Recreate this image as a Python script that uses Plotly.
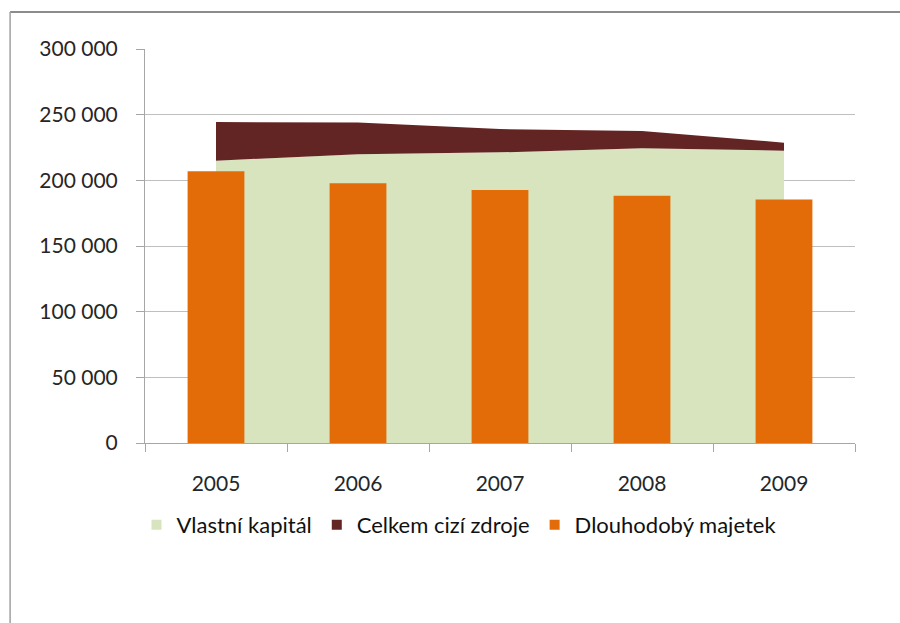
import plotly.graph_objects as go

years = ["2005", "2006", "2007", "2008", "2009"]
vlastni_kapital = [215000, 219800, 221300, 224400, 222600]
cizi_zdroje = [29400, 24200, 17700, 13200, 6100]
dlouhodoby_majetek = [206900, 197700, 192600, 188300, 185500]
y_ticks = [0, 50000, 100000, 150000, 200000, 250000, 300000]
y_tick_labels = ["0", "50 000", "100 000", "150 000", "200 000", "250 000", "300 000"]

GREEN = "#D7E4BD"
BROWN = "#632523"
ORANGE = "#E36C09"
FONT = "Lato"

x = list(range(len(years)))

fig = go.Figure()
fig.add_trace(go.Scatter(x=x, y=vlastni_kapital, stackgroup="a", mode="none",
                         fillcolor=GREEN, name="Vlastní kapitál", showlegend=False))
fig.add_trace(go.Scatter(x=x, y=cizi_zdroje, stackgroup="a", mode="none",
                         fillcolor=BROWN, name="Celkem cizí zdroje", showlegend=False))
fig.add_trace(go.Bar(x=x, y=dlouhodoby_majetek, marker=dict(color=ORANGE, line=dict(width=0)),
                     width=0.4, name="Dlouhodobý majetek", showlegend=False, yaxis="y2"))

for name, col in [("Vlastní kapitál", GREEN), ("Celkem cizí zdroje", BROWN), ("Dlouhodobý majetek", ORANGE)]:
    fig.add_trace(go.Scatter(x=[None], y=[None], mode="markers", name=name,
                             marker=dict(symbol="square", size=10, color=col)))

fig.update_layout(
    width=900, height=623,
    margin=dict(l=145, r=45, t=49, b=180),
    paper_bgcolor="white", plot_bgcolor="white",
    font=dict(family=FONT, size=21, color="#262626"),
    showlegend=True,
    legend=dict(orientation="h", traceorder="normal", x=-0.012, xanchor="left", y=-0.208, yanchor="middle",
                font=dict(family=FONT, size=22, color="#111111"), bgcolor="rgba(0,0,0,0)"),
    xaxis=dict(range=[-0.5, 4.5], tickmode="array", tickvals=x, ticktext=years,
               ticks="", ticklabelstandoff=22, showgrid=False, zeroline=False,
               showline=True, linecolor="#A6A6A6", linewidth=1,
               minor=dict(tickmode="array", tickvals=[-0.5, 0.5, 1.5, 2.5, 3.5, 4.5],
                          ticks="outside", ticklen=8, tickcolor="#A6A6A6", showgrid=False),
               fixedrange=True),
    yaxis=dict(range=[0, 300000], tickmode="array", tickvals=y_ticks, ticktext=y_tick_labels,
               ticks="outside", ticklen=8, tickcolor="#A6A6A6", ticklabelstandoff=14,
               showgrid=True, gridcolor="#BFBFBF", gridwidth=1, zeroline=False,
               showline=True, linecolor="#A6A6A6", linewidth=1, fixedrange=True),
    yaxis2=dict(range=[0, 300000], overlaying="y", showgrid=False, zeroline=False,
                showticklabels=False, showline=False, ticks="", fixedrange=True),
    shapes=[
        dict(type="line", xref="paper", yref="paper", x0=-0.19, x1=1.07, y0=1.094, y1=1.094,
             line=dict(color="#8C8C8C", width=2)),
        dict(type="line", xref="paper", yref="paper", x0=-0.19, x1=-0.19, y0=1.094, y1=-0.47,
             line=dict(color="#A0A0A0", width=1.5)),
    ],
)

fig.write_html("out.html")
